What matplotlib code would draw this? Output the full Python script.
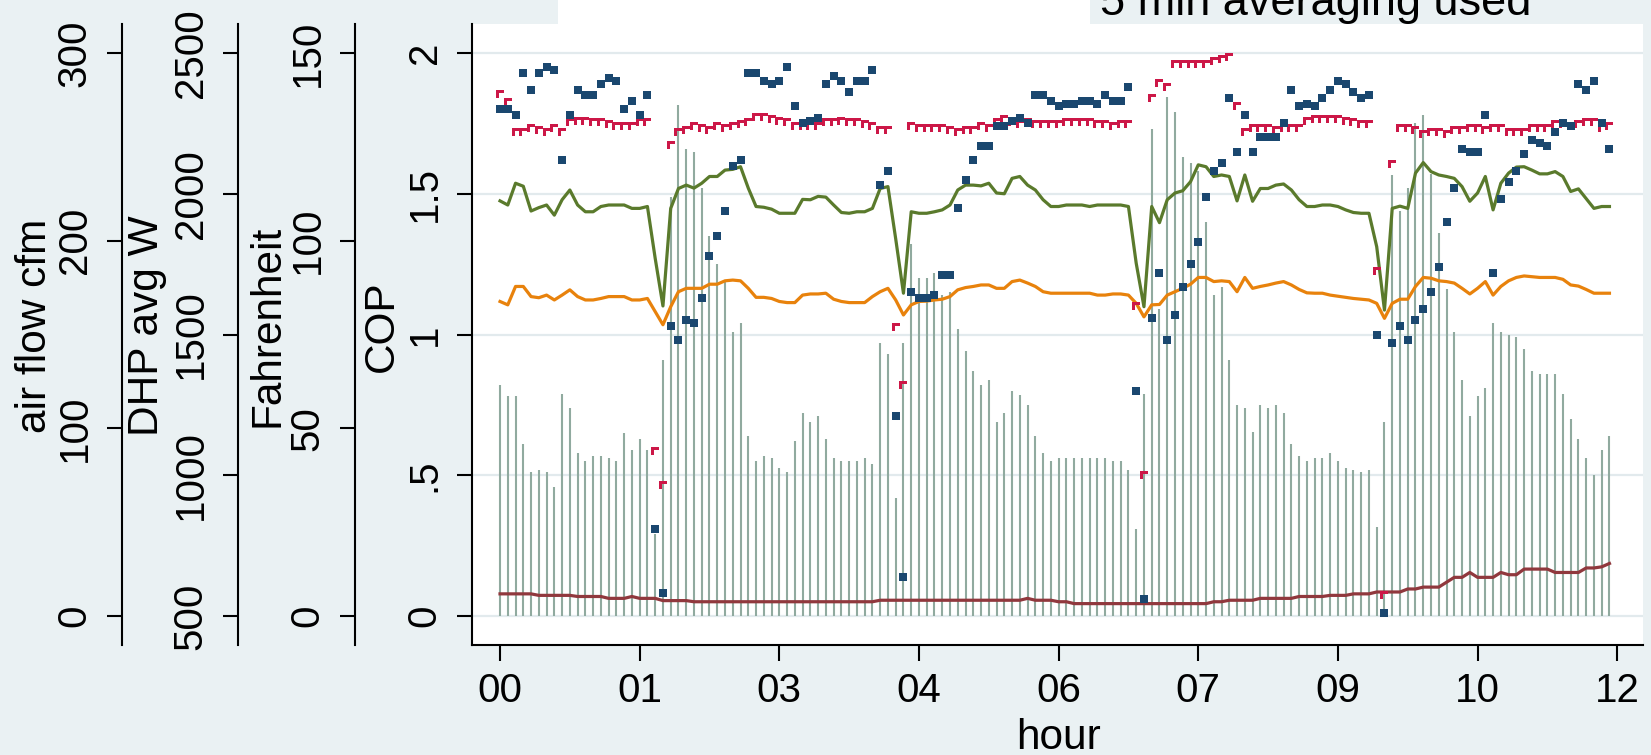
import numpy as np
import matplotlib
matplotlib.use("Agg")
import matplotlib.pyplot as plt
from matplotlib.path import Path
from matplotlib.patches import Rectangle

plt.rcParams['font.family'] = ['Liberation Sans', 'DejaVu Sans']

# ---------------- data (5-minute averages over 12 hours) ----------------
minutes = np.arange(0, 720, 5)
hours = minutes / 60.0

dhp_w = [1320, 1280, 1280, 1110, 1010, 1020, 1010, 960, 1290, 1240, 1080, 1050,
         1070, 1070, 1060, 1050, 1150, 1090, 1130, 1090, 790, 1410, 1990, 2315,
         2160, 2150, 2020, 1850, 1750, 1690, 1510, 1540, 1140, 1050, 1070, 1060,
         1025, 1010, 1120, 1220, 1190, 1210, 1130, 1060, 1050, 1050, 1050, 1060,
         1040, 1470, 1430, 920, 1470, 1820, 1700, 1700, 1720, 1640, 1650, 1520,
         1440, 1370, 1320, 1340, 1190, 1220, 1300, 1285, 1250, 1140, 1080, 1050,
         1060, 1060, 1060, 1060, 1060, 1060, 1060, 1050, 1050, 1020, 810, 1290,
         2230, 1590, 2345, 2290, 2130, 2110, 2080, 1900, 1640, 1670, 1410, 1250,
         1240, 1155, 1250, 1240, 1250, 1220, 1110, 1070, 1050, 1060, 1060, 1080,
         1050, 1025, 1020, 1010, 1020, 815, 1190, 2065, 1940, 2020, 2250, 2280,
         2070, 1860, 1660, 1510, 1340, 1210, 1280, 1310, 1540, 1510, 1500, 1490,
         1450, 1370, 1360, 1360, 1360, 1290, 1200, 1130, 1060, 1000, 1090, 1140]

cop = [1.80, 1.80, 1.78, 1.93, 1.87, 1.93, 1.95, 1.94, 1.62, 1.78, 1.87, 1.85,
       1.85, 1.89, 1.91, 1.90, 1.80, 1.83, 1.78, 1.85, 0.31, 0.08, 1.03, 0.98,
       1.05, 1.04, 1.13, 1.28, 1.35, 1.44, 1.60, 1.62, 1.93, 1.93, 1.90, 1.89,
       1.90, 1.95, 1.81, 1.75, 1.76, 1.77, 1.89, 1.92, 1.90, 1.86, 1.90, 1.90,
       1.94, 1.53, 1.58, 0.71, 0.14, 1.15, 1.13, 1.13, 1.14, 1.21, 1.21, 1.45,
       1.55, 1.62, 1.67, 1.67, 1.74, 1.74, 1.76, 1.77, 1.75, 1.85, 1.85, 1.83,
       1.81, 1.82, 1.82, 1.83, 1.83, 1.82, 1.85, 1.83, 1.83, 1.88, 0.80, 0.06,
       1.06, 1.22, 0.98, 1.07, 1.17, 1.25, 1.33, 1.49, 1.58, 1.61, 1.84, 1.65,
       1.78, 1.65, 1.70, 1.70, 1.70, 1.75, 1.87, 1.81, 1.82, 1.81, 1.84, 1.87,
       1.90, 1.89, 1.86, 1.84, 1.85, 1.00, 0.01, 0.97, 1.03, 0.98, 1.05, 1.09,
       1.15, 1.24, 1.40, 1.52, 1.66, 1.65, 1.65, 1.78, 1.22, 1.48, 1.54, 1.58,
       1.64, 1.69, 1.68, 1.67, 1.72, 1.75, 1.74, 1.89, 1.87, 1.90, 1.75, 1.66]

airflow_cfm = [278, 274, 258, 258, 260, 259, 258, 260, 258, 263, 264, 264,
               263, 263, 262, 261, 261, 261, 263, 263, 88, 70, 251, 258,
               259, 261, 260, 259, 261, 260, 261, 262, 263, 266, 266, 265,
               264, 263, 261, 261, 261, 261, 263, 263, 264, 263, 263, 262,
               261, 259, 259, 154, 123, 261, 260, 260, 260, 260, 259, 258,
               259, 259, 261, 260, 263, 265, 263, 262, 263, 262, 262, 262,
               262, 263, 263, 263, 263, 262, 262, 261, 262, 262, 165, 75,
               276, 284, 282, 294, 294, 294, 294, 294, 296, 297, 298, 272,
               258, 260, 260, 260, 259, 260, 260, 260, 264, 265, 265, 265,
               265, 264, 263, 262, 262, 184, 11, 241, 260, 260, 259, 257,
               258, 258, 257, 259, 259, 260, 260, 259, 260, 260, 258, 258,
               258, 260, 260, 260, 262, 262, 261, 262, 263, 263, 260, 261]

temp_supply_f = [110.6, 109.5, 115.3, 114.5, 107.9, 108.8, 109.5, 106.8, 110.9, 113.5, 109.5, 107.7,
                 107.7, 109.1, 109.5, 109.5, 109.5, 108.6, 108.6, 109.1, 95.3, 82.6, 108.6, 113.9,
                 114.8, 114.0, 115.3, 117.1, 117.1, 118.8, 119.0, 119.7, 114.0, 109.1, 108.9, 108.4,
                 107.3, 107.3, 107.3, 111.0, 110.9, 111.8, 111.6, 109.5, 107.5, 107.3, 107.7, 107.7,
                 108.6, 113.9, 114.4, 100.5, 86.0, 107.7, 107.3, 107.3, 107.7, 108.2, 109.5, 113.5,
                 114.8, 114.8, 114.6, 115.3, 112.7, 112.5, 116.6, 117.1, 114.8, 113.5, 110.9, 109.1,
                 109.1, 109.5, 109.5, 109.5, 109.1, 109.5, 109.5, 109.5, 109.5, 109.1, 94.0, 82.4,
                 109.1, 104.8, 110.9, 112.7, 113.3, 115.7, 120.2, 119.7, 117.1, 117.5, 117.1, 110.6,
                 117.5, 110.5, 113.9, 113.9, 114.8, 115.1, 113.5, 110.9, 109.1, 109.1, 109.5, 109.5,
                 109.1, 108.2, 107.5, 107.3, 107.3, 98.4, 81.5, 108.6, 109.2, 108.6, 118.0, 120.8,
                 118.4, 117.5, 117.1, 116.6, 114.4, 110.5, 112.7, 117.1, 108.2, 115.3, 118.0, 119.6,
                 119.7, 118.8, 117.8, 117.8, 118.4, 117.1, 113.1, 113.8, 111.2, 108.6, 109.1, 109.1]

temp_mid_f = [83.8, 82.9, 87.8, 87.8, 85.1, 84.8, 85.5, 84.2, 85.5, 86.9, 85.1, 84.2,
              84.2, 84.6, 85.1, 85.1, 85.1, 84.2, 84.2, 84.6, 81.1, 77.6, 82.4, 86.4,
              87.3, 87.3, 87.3, 88.4, 88.4, 89.3, 89.5, 89.3, 87.3, 84.9, 84.9, 84.6,
              83.8, 83.5, 83.5, 85.5, 85.8, 85.8, 86.0, 84.4, 83.8, 83.5, 83.5, 83.5,
              85.1, 86.4, 87.3, 84.2, 80.2, 82.9, 83.8, 83.9, 84.2, 84.4, 85.1, 86.9,
              87.5, 87.8, 88.2, 88.2, 87.3, 87.3, 89.1, 89.5, 88.7, 87.8, 86.4, 86.0,
              86.0, 86.0, 86.0, 86.0, 86.0, 85.5, 85.5, 85.8, 85.8, 85.5, 83.3, 79.7,
              82.9, 83.0, 85.5, 86.4, 87.3, 88.4, 90.2, 90.2, 89.1, 89.3, 89.1, 86.4,
              90.2, 87.3, 87.8, 88.2, 88.7, 89.1, 88.2, 87.0, 86.1, 86.0, 86.0, 85.5,
              85.2, 84.9, 84.6, 84.4, 84.2, 83.3, 79.3, 83.3, 84.4, 84.4, 87.8, 90.2,
              90.0, 89.3, 89.1, 88.7, 87.3, 85.8, 87.3, 89.1, 85.5, 87.8, 89.3, 90.2,
              90.6, 90.4, 90.2, 90.2, 90.2, 89.7, 88.2, 87.9, 87.0, 86.0, 86.0, 86.0]

temp_outdoor_f = [5.9, 5.9, 5.9, 5.9, 5.9, 5.5, 5.5, 5.5, 5.5, 5.5, 5.2, 5.2,
                  5.2, 5.2, 4.7, 4.7, 4.7, 5.2, 4.7, 4.7, 4.7, 4.1, 4.1, 4.1,
                  4.1, 3.8, 3.8, 3.8, 3.8, 3.8, 3.8, 3.8, 3.8, 3.8, 3.8, 3.8,
                  3.8, 3.8, 3.8, 3.8, 3.8, 3.8, 3.8, 3.8, 3.8, 3.8, 3.8, 3.8,
                  3.8, 4.2, 4.2, 4.2, 4.2, 4.2, 4.2, 4.2, 4.2, 4.2, 4.2, 4.2,
                  4.2, 4.2, 4.2, 4.2, 4.2, 4.2, 4.2, 4.2, 4.7, 4.2, 4.2, 4.2,
                  3.8, 3.8, 3.3, 3.3, 3.3, 3.3, 3.3, 3.3, 3.3, 3.3, 3.3, 3.3,
                  3.3, 3.3, 3.3, 3.3, 3.3, 3.3, 3.3, 3.3, 3.8, 3.8, 4.2, 4.2,
                  4.2, 4.2, 4.7, 4.7, 4.7, 4.7, 4.7, 5.2, 5.2, 5.2, 5.2, 5.5,
                  5.5, 5.5, 5.9, 5.9, 5.9, 6.4, 6.4, 6.4, 6.4, 7.2, 7.2, 7.7,
                  7.7, 7.7, 9.0, 10.3, 10.3, 11.6, 10.3, 10.3, 10.3, 11.6, 11.0, 11.0,
                  12.5, 12.5, 12.5, 12.5, 11.6, 11.6, 11.6, 11.6, 12.8, 12.8, 13.1, 14.0]

xtick_pos = [0, 1.5, 3, 4.5, 6, 7.5, 9, 10.5, 12]
xtick_labels = ["00", "01", "03", "04", "06", "07", "09", "10", "12"]
cop_ticks = [0, 0.5, 1, 1.5, 2]
cop_ticklabels = ["0", ".5", "1", "1.5", "2"]
f_ticks = [0, 50, 100, 150]
dhp_ticks = [500, 1000, 1500, 2000, 2500]
cfm_ticks = [0, 100, 200, 300]

# ---------------- style ----------------
BG = '#eaf1f3'
GRID = '#e2eaed'
C_SPIKE = '#90aa9f'
C_BLUE = '#1a476f'
C_RED = '#cc1747'
C_GREEN = '#5a7a2c'
C_ORANGE = '#e8820c'
C_BROWN = '#90383d'

W, H = 1651, 755
L, R, T, B = 472, 1643, 24, 645
rect = [L / W, 1 - B / H, (R - L) / W, (B - T) / H]
cop_lim = (-0.103, 2.103)
x_lim = (-0.301, 12.277)
TITLE_Y = (B - 326) / (B - T)

fig = plt.figure(figsize=(W / 100, H / 100), dpi=100, facecolor=BG)
fig.patches.append(Rectangle((558 / W, 1 - T / H), (1090 - 558) / W, T / H,
                             transform=fig.transFigure, facecolor='white',
                             edgecolor='none', zorder=0))

ax_dhp = fig.add_axes(rect, facecolor='white')
ax_f = fig.add_axes(rect, facecolor='none')
ax_cfm = fig.add_axes(rect, facecolor='none')
ax_cop = fig.add_axes(rect, facecolor='none')

TICK_FS = 29
TITLE_FS = 30.5


def style_left(ax, axis_px, ticks, labels, title, title_px, show_x=False):
    for s in ['top', 'right', 'bottom']:
        ax.spines[s].set_visible(False)
    ax.spines['left'].set_position(('axes', (axis_px - L) / (R - L)))
    ax.spines['left'].set_linewidth(1.5)
    ax.set_yticks(ticks)
    ax.set_yticklabels(labels)
    ax.tick_params(axis='y', direction='out', length=11, width=1.5,
                   labelsize=TICK_FS, pad=9.5)
    for t in ax.get_yticklabels():
        t.set_rotation(90)
        t.set_va('center')
    ax.set_ylabel(title, fontsize=TITLE_FS)
    ax.yaxis.set_label_coords((title_px - L) / (R - L), TITLE_Y)
    ax.yaxis.label.set_va('baseline')
    ax.set_xlim(*x_lim)
    if not show_x:
        ax.xaxis.set_visible(False)


# spikes: DHP power
ax_dhp.set_ylim(500 + 1000 * cop_lim[0], 500 + 1000 * cop_lim[1])
ax_dhp.grid(axis='y', color=GRID, lw=1.6)
ax_dhp.set_axisbelow(True)
ax_dhp.vlines(hours, 500, dhp_w, color=C_SPIKE, lw=1.5, zorder=2)
style_left(ax_dhp, 238, dhp_ticks, [str(v) for v in dhp_ticks], 'DHP avg W', 158)

# temperatures
ax_f.set_ylim(75 * cop_lim[0], 75 * cop_lim[1])
ax_f.plot(hours, temp_outdoor_f, color=C_BROWN, lw=2.3)
ax_f.plot(hours, temp_mid_f, color=C_ORANGE, lw=2.3)
ax_f.plot(hours, temp_supply_f, color=C_GREEN, lw=2.3)
style_left(ax_f, 355, f_ticks, [str(v) for v in f_ticks], 'Fahrenheit', 278)

# air flow
gamma = Path([(-1, -1), (-1, 1), (1, 1), (1, 0.3), (-0.3, 0.3), (-0.3, -1), (-1, -1)],
             [Path.MOVETO] + [Path.LINETO] * 5 + [Path.CLOSEPOLY])
ax_cfm.set_ylim(150 * cop_lim[0], 150 * cop_lim[1])
ax_cfm.plot(hours, airflow_cfm, ls='none', marker=gamma, ms=6, color=C_RED,
            markeredgewidth=0)
style_left(ax_cfm, 122, cfm_ticks, [str(v) for v in cfm_ticks], 'air flow cfm', 46)

# COP
ax_cop.set_ylim(*cop_lim)
ax_cop.plot(hours, cop, ls='none', marker='s', ms=5.3, color=C_BLUE,
            markeredgewidth=0)
style_left(ax_cop, L, cop_ticks, cop_ticklabels, 'COP', 393, show_x=True)
ax_cop.spines['bottom'].set_visible(True)
ax_cop.spines['bottom'].set_linewidth(1.5)
ax_cop.set_xticks(xtick_pos)
ax_cop.set_xticklabels(xtick_labels)
ax_cop.tick_params(axis='x', direction='out', length=11.5, width=1.5,
                   labelsize=TICK_FS, pad=8)
ax_cop.set_xlabel('hour', fontsize=TITLE_FS)
ax_cop.xaxis.set_label_coords((1058 - L) / (R - L), (B - 749) / (B - T))
ax_cop.xaxis.label.set_va('baseline')

fig.text(1100 / W, 1 - 15 / H, '5 min averaging used', fontsize=32.5,
         ha='left', va='baseline')

fig.savefig('out.png', dpi=100, facecolor=BG)
